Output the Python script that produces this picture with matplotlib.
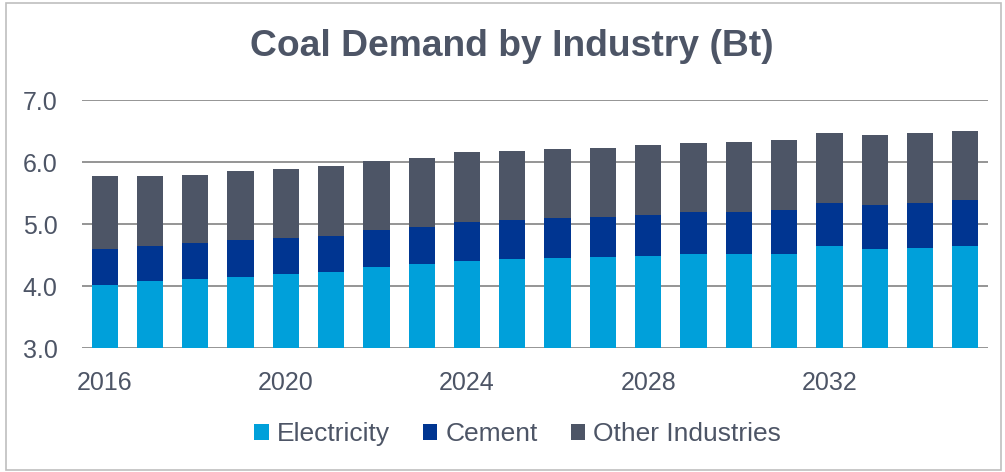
import matplotlib.pyplot as plt
from matplotlib.patches import Rectangle
import numpy as np

plt.rcParams['font.family'] = ['Liberation Sans', 'DejaVu Sans']

# ---- dados (Bt) ----
years = list(range(2016, 2036))
electricity = [4.02, 4.08, 4.11, 4.15, 4.19, 4.23, 4.30, 4.35, 4.41, 4.44,
               4.45, 4.46, 4.49, 4.51, 4.52, 4.52, 4.64, 4.60, 4.62, 4.65]
cement = [0.57, 0.57, 0.58, 0.59, 0.58, 0.58, 0.60, 0.60, 0.63, 0.62,
          0.64, 0.65, 0.65, 0.68, 0.68, 0.70, 0.70, 0.70, 0.72, 0.73]
other = [1.18, 1.12, 1.10, 1.11, 1.12, 1.12, 1.12, 1.12, 1.12, 1.12,
         1.12, 1.12, 1.13, 1.12, 1.12, 1.13, 1.12, 1.13, 1.13, 1.12]
tick_years = [2016, 2020, 2024, 2028, 2032]
series_names = ['Electricity', 'Cement', 'Other Industries']

c_elec = '#00A0DA'
c_cem = '#003591'
c_oth = '#4D5566'
txt = '#4D5566'

fig = plt.figure(figsize=(10.05, 4.72), dpi=100)
ax = fig.add_axes([0.0816, 0.2627, 0.9014, 0.5254])

x = np.arange(len(years))
base = 3.0
elec = np.array(electricity)
cem = np.array(cement)
oth = np.array(other)

w = 0.58
ax.bar(x, elec - base, bottom=base, width=w, color=c_elec, label=series_names[0], zorder=3)
ax.bar(x, cem, bottom=elec, width=w, color=c_cem, label=series_names[1], zorder=3)
ax.bar(x, oth, bottom=elec + cem, width=w, color=c_oth, label=series_names[2], zorder=3)

ax.set_xlim(-0.5, len(years) - 0.5)
ax.set_ylim(3, 7)
ax.set_yticks([3, 4, 5, 6, 7])
ax.set_yticklabels(['3.0', '4.0', '5.0', '6.0', '7.0'])
ax.set_xticks([years.index(y) for y in tick_years])
ax.set_xticklabels([str(y) for y in tick_years])
ax.yaxis.grid(True, color='#8C8C8C', linewidth=1.3, zorder=0)
ax.set_axisbelow(True)

for s in ['top', 'right', 'left', 'bottom']:
    ax.spines[s].set_visible(False)
ax.tick_params(left=False, bottom=False, labelsize=18, labelcolor=txt)
ax.tick_params(axis='y', pad=14)
ax.tick_params(axis='x', pad=13)

fig.text(0.509, 0.902, 'Coal Demand by Industry (Bt)', ha='center', va='center',
         fontsize=26.8, fontweight='bold', color=txt)

leg = fig.legend(loc='center', bbox_to_anchor=(0.515, 0.08), ncol=3, frameon=False,
                 fontsize=19, handlelength=0.55, handleheight=0.55, handletextpad=0.3,
                 columnspacing=1.25)
for t in leg.get_texts():
    t.set_color(txt)

# moldura
fig.patches.append(Rectangle((0.006, 0.004), 0.99, 0.99, transform=fig.transFigure,
                             fill=False, edgecolor='#BFBFBF', linewidth=1.2))

fig.savefig('out.png', dpi=100)
